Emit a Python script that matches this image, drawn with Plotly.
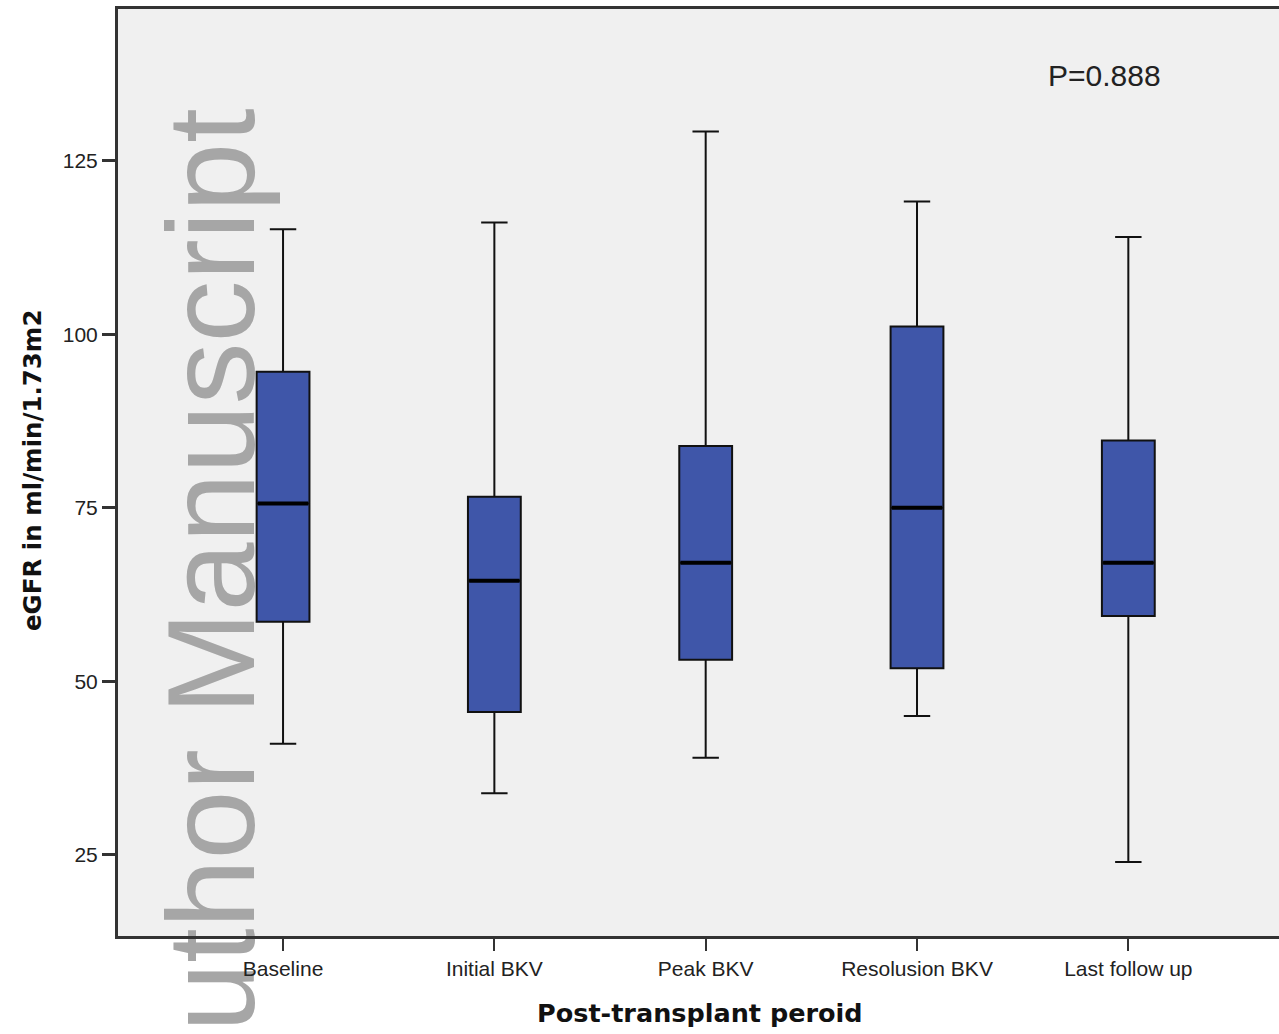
import plotly.graph_objects as go

# ---- data ----
categories = ["Baseline", "Initial BKV", "Peak BKV", "Resolusion BKV", "Last follow up"]
whisker_low = [41.0, 33.9, 39.0, 45.0, 24.0]
q1_vals = [58.6, 45.6, 53.1, 51.9, 59.4]
median_vals = [75.6, 64.5, 67.1, 75.0, 67.1]
q3_vals = [94.6, 76.6, 83.9, 101.1, 84.7]
whisker_high = [115.1, 116.1, 129.2, 119.1, 114.0]
y_ticks = [25, 50, 75, 100, 125]

W, H = 1279, 1034
ML, MR, MT, MB = 118, 0, 9, 98
PW, PH = W - ML - MR, H - MT - MB


def px_x(px):
    return (px - ML) / PW


def px_y(py):
    return 1 - (py - MT) / PH


fig = go.Figure()

fig.add_trace(go.Box(
    x=categories,
    q1=q1_vals,
    median=median_vals,
    q3=q3_vals,
    lowerfence=whisker_low,
    upperfence=whisker_high,
    fillcolor="#3f56a9",
    line=dict(color="#111111", width=2),
    whiskerwidth=0.5,
    width=0.25,
    boxpoints=False,
    hoverinfo="skip",
    showlegend=False,
))

# thicker median lines
fig.add_trace(go.Scatter(
    x=categories,
    y=median_vals,
    mode="markers",
    marker=dict(symbol="line-ew", size=36, line=dict(color="#000000", width=4)),
    hoverinfo="skip",
    showlegend=False,
))

# watermark behind the data
fig.add_shape(
    type="rect", xref="paper", yref="paper",
    x0=px_x(149), x1=px_x(249), y0=px_y(1050), y1=px_y(90),
    line=dict(width=0), fillcolor="rgba(0,0,0,0)", layer="below",
    label=dict(text="uthor Manuscript", textangle=-90, textposition="middle center",
               font=dict(size=124, color="#a6a6a6", family="Liberation Sans, Arial")),
)

fig.add_annotation(
    text="P=0.888", xref="paper", yref="paper", x=px_x(1104), y=px_y(76),
    xanchor="center", yanchor="middle", showarrow=False,
    font=dict(size=30, color="#222222", family="Liberation Sans, Arial"),
)

fig.add_annotation(
    text="<b>eGFR in ml/min/1.73m2</b>", xref="paper", yref="paper", x=px_x(32), y=px_y(471),
    xanchor="center", yanchor="middle", showarrow=False, textangle=-90,
    font=dict(size=24.5, color="#111111", family="DejaVu Sans"),
)

fig.add_annotation(
    text="<b>Post-transplant peroid</b>", xref="paper", yref="paper", x=px_x(700), y=px_y(1013),
    xanchor="center", yanchor="middle", showarrow=False,
    font=dict(size=25.5, color="#111111", family="DejaVu Sans"),
)

fig.update_layout(
    width=W, height=H,
    margin=dict(l=ML, r=MR, t=MT, b=MB, pad=0),
    plot_bgcolor="#f0f0f0",
    paper_bgcolor="#ffffff",
    showlegend=False,
)

fig.update_xaxes(
    type="category",
    range=[-0.781, 4.713],
    showline=True, linecolor="#333333", linewidth=3, mirror=True,
    ticks="outside", ticklen=12, tickwidth=2, tickcolor="#333333",
    tickfont=dict(size=21, color="#222222", family="Liberation Sans, Arial"),
    showgrid=False, zeroline=False,
)

fig.update_yaxes(
    range=[13.33, 146.83],
    tickvals=y_ticks,
    showline=True, linecolor="#333333", linewidth=3, mirror=False,
    ticks="outside", ticklen=13, tickwidth=2.5, tickcolor="#333333",
    tickfont=dict(size=21, color="#222222", family="Liberation Sans, Arial"),
    showgrid=False, zeroline=False,
)

fig.write_html("out.html", config={"displayModeBar": False},
               post_script="document.body.style.margin='0px';")
